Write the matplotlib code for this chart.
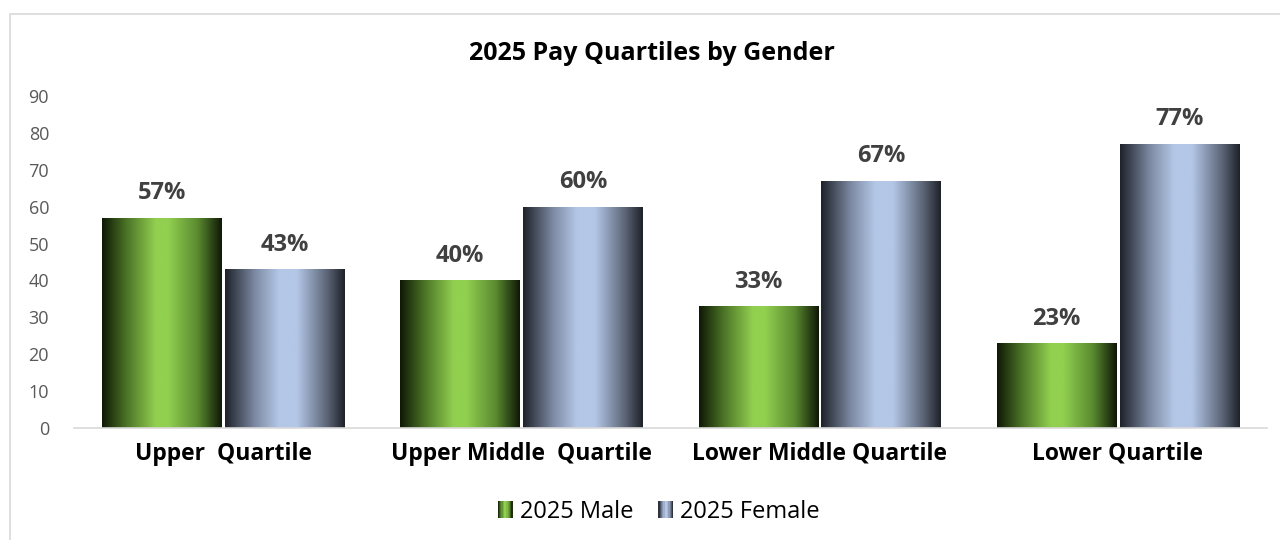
import matplotlib
matplotlib.use('Agg')
import matplotlib.pyplot as plt
import numpy as np
from matplotlib.colors import LinearSegmentedColormap
from matplotlib.patches import Rectangle
from matplotlib.legend_handler import HandlerBase

plt.rcParams['font.family'] = ['Open Sans', 'DejaVu Sans']

categories = ['Upper  Quartile', 'Upper Middle  Quartile', 'Lower Middle Quartile', 'Lower Quartile']
male = [57, 40, 33, 23]
female = [43, 60, 67, 77]
series_names = ['2025 Male', '2025 Female']

male_cmap = LinearSegmentedColormap.from_list(
  'male', [(0, '#0f1805'), (0.2, '#4a7226'), (0.45, '#92d050'), (0.55, '#92d050'), (0.8, '#5a8a30'), (1, '#0f1805')])
female_cmap = LinearSegmentedColormap.from_list(
  'female', [(0, '#1e222a'), (0.25, '#7d8aa3'), (0.45, '#b4c7e7'), (0.6, '#b4c7e7'), (0.85, '#5d6678'), (1, '#1e222a')])

def gradient_bars(ax, bars, cmap):
  grad = np.linspace(0, 1, 256).reshape(1, -1)
  for b in bars:
    x0, y0 = b.get_x(), b.get_y()
    w, h = b.get_width(), b.get_height()
    b.set_facecolor('none')
    b.set_edgecolor('none')
    im = ax.imshow(grad, cmap=cmap, aspect='auto', extent=(x0, x0 + w, y0, y0 + h),
                   interpolation='bicubic', zorder=2)
    im.set_clip_path(b)

class GradientHandler(HandlerBase):
  def __init__(self, cmap):
    super().__init__()
    self.cmap = cmap

  def create_artists(self, legend, orig_handle, xdescent, ydescent, width, height, fontsize, trans):
    n = 12
    w = height * 0.9
    x0 = -xdescent + width - w
    arts = []
    for i in range(n):
      arts.append(Rectangle((x0 + i * w / n, -ydescent), w / n + 0.05, height,
                            facecolor=self.cmap((i + 0.5) / n), edgecolor='none', transform=trans))
    return arts

fig = plt.figure(figsize=(12.8, 5.4), dpi=100)
fig.patches.append(Rectangle((10 / 1280, -0.1), 1.1, 1 - 14 / 540 + 0.1, transform=fig.transFigure,
                             fill=False, edgecolor='#d9d9d9', linewidth=1.2))
ax = fig.add_axes([74 / 1280, 1 - 428 / 540, (1267 - 74) / 1280, (428 - 96) / 540])

x = np.arange(len(categories))
bw = 0.4
gap = 0.006
bm = ax.bar(x - bw / 2 - gap, male, bw, label=series_names[0])
bf = ax.bar(x + bw / 2 + gap, female, bw, label=series_names[1])
gradient_bars(ax, bm, male_cmap)
gradient_bars(ax, bf, female_cmap)

for bars, vals in ((bm, male), (bf, female)):
  for b, v in zip(bars, vals):
    ax.annotate(f'{v}%', (b.get_x() + b.get_width() / 2, v), xytext=(0, 9), textcoords='offset points',
                ha='center', va='bottom', fontsize=17, fontweight='bold', color='#404040')

ax.set_xlim(-0.5, len(categories) - 0.5)
ax.set_ylim(0, 90)
ax.set_yticks(range(0, 91, 10))
ax.set_xticks(x)
ax.set_xticklabels(categories, fontsize=16.5, fontweight='bold', color='#000000')
ax.tick_params(axis='x', length=0, pad=10)
ax.tick_params(axis='y', length=0, pad=18, labelsize=13, labelcolor='#595959')
for s in ['top', 'right', 'left']:
  ax.spines[s].set_visible(False)
ax.spines['bottom'].set_color('#d9d9d9')
ax.spines['bottom'].set_linewidth(1.2)

ax.set_title('2025 Pay Quartiles by Gender', fontsize=18, fontweight='bold', pad=26, color='#000000',
             x=(652 - 74) / (1267 - 74))

fig.legend(handles=[bm, bf], labels=series_names, loc='center', bbox_to_anchor=(658 / 1280, 1 - 512 / 540),
           ncol=2, frameon=False, fontsize=17, handlelength=0.7, handletextpad=0.3, columnspacing=1.0,
           handler_map={bm: GradientHandler(male_cmap), bf: GradientHandler(female_cmap)})

fig.savefig('out.png', dpi=100)
